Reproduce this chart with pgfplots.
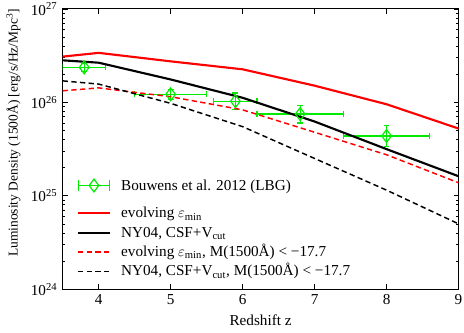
\documentclass[border=0pt]{standalone}
\usepackage{fontspec}
\setmainfont{Liberation Serif}
\usepackage{pgfplots}
\pgfplotsset{compat=1.18}
\definecolor{lbg}{RGB}{0,235,0}

\begin{document}
\fontsize{11.4}{13.5}\selectfont
\begin{tikzpicture}
\begin{axis}[
    scale only axis,
    width=296.9pt, height=210.2pt,
    ymode=log,
    xmin=3.5, xmax=9, ymin=1e24, ymax=1e27,
    xtick={4,5,6,7,8,9},
    ytick={1e24,1e25,1e26,1e27},
    yticklabels={10\textsuperscript{24},10\textsuperscript{25},10\textsuperscript{26},10\textsuperscript{27}},
    minor ytick={2e24,3e24,4e24,5e24,6e24,7e24,8e24,9e24,
                 2e25,3e25,4e25,5e25,6e25,7e25,8e25,9e25,
                 2e26,3e26,4e26,5e26,6e26,7e26,8e26,9e26},
    /pgf/number format/assume math mode=true,
    tick align=inside,
    major tick length=3.75pt, minor tick length=2pt,
    every tick/.style={black, line width=0.6pt},
    axis line style={line width=0.8pt},
    xlabel={Redshift z},
    ylabel={Luminosity Density (1500Å) [erg/s/Hz/Mpc\textsuperscript{3}]},
    ylabel style={at={(ticklabel cs:0.558)}, font=\fontsize{10.1}{12}\selectfont},
    legend style={at={(rel axis cs:0.035,0.40)}, anchor=north west, draw=none, fill=none,
        inner sep=0pt, row sep=2.3pt,
        nodes={inner sep=1pt, text height=8.5pt, anchor=west}},
    legend cell align=left,
    legend image code/.code={\draw[#1] (0cm,0cm) -- (0.85cm,0cm); \path (0.85cm+6.5pt,0cm);},
]
% Bouwens et al. 2012
\addlegendimage{lbg, line width=0.9pt,
    legend image code/.code={
        \draw[lbg, line width=0.9pt, |-|] (0cm,0cm) -- (0.85cm,0cm);
        \draw[lbg, line width=0.9pt] plot[mark=diamond, mark size=4.8pt] coordinates {(0.425cm,0cm)};
        \path (0.85cm+6.5pt,-12pt);}}
\addlegendentry{Bouwens et al. 2012 (LBG)}

\addplot[lbg, only marks, mark=diamond, mark size=4.8pt, forget plot,
    mark options={line width=0.9pt, fill=none},
    error bars/.cd, x dir=both, y dir=both, x explicit, y explicit,
    error bar style={line width=0.9pt},
    error mark=-,
    error mark options={rotate=90, mark size=2.2pt, line width=0.9pt},
    ] coordinates {
    (3.8,2.37e26) += (0.3,0.22e26) -= (0.3,0.21e26)
    (5.0,1.22e26) += (0.5,0.16e26) -= (0.5,0.15e26)
    (5.9,1.03e26) += (0.3,0.23e26) -= (0.3,0.19e26)
    (6.8,7.5e25)  += (0.6,1.83e25) -= (0.6,1.47e25)
    (8.0,4.37e25) += (0.6,1.25e25) -= (0.6,0.98e25)
};

\addplot[red, line width=1.6pt] coordinates {
    (3.5,3.09e26) (4,3.39e26) (5,2.75e26) (6,2.26e26) (7,1.51e26) (8,9.55e25) (9,5.25e25)
};
\addlegendentry{evolving $\varepsilon$\textsubscript{min}}

\addplot[black, line width=1.6pt] coordinates {
    (3.5,2.82e26) (4,2.66e26) (5,1.76e26) (6,1.12e26) (7,6.24e25) (8,3.16e25) (9,1.62e25)
};
\addlegendentry{NY04, CSF+V\textsubscript{cut}}

\addplot[red, line width=1.1pt, dash pattern=on 4pt off 2.5pt] coordinates {
    (3.5,1.33e26) (4,1.43e26) (5,1.15e26) (6,8.32e25) (7,4.79e25) (8,2.75e25) (9,1.38e25)
};
\addlegendentry{evolving $\varepsilon$\textsubscript{min}, M(1500Å) < −17.7}

\addplot[black, line width=1.1pt, dash pattern=on 4pt off 2.5pt] coordinates {
    (3.5,1.70e26) (4,1.57e26) (5,9.77e25) (6,5.50e25) (7,2.51e25) (8,1.15e25) (9,5.01e24)
};
\addlegendentry{NY04, CSF+V\textsubscript{cut}, M(1500Å) < −17.7}
\end{axis}
\pgfresetboundingbox
\path[use as bounding box] ([shift={(-47pt,-32.8pt)}]current axis.south west)
    rectangle ([shift={(4.1pt,6.75pt)}]current axis.north east);
\end{tikzpicture}
\end{document}
